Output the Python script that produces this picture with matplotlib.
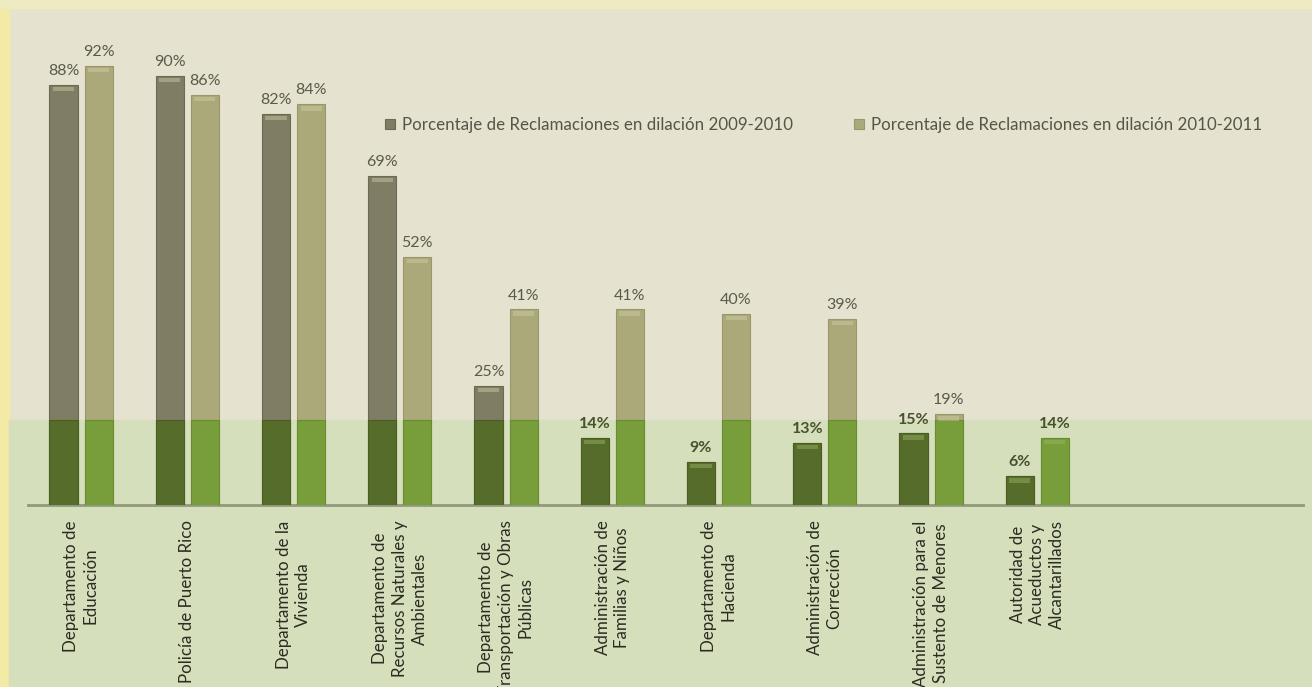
import numpy as np
import matplotlib.pyplot as plt
from matplotlib.patches import Rectangle
from matplotlib.transforms import blended_transform_factory

plt.rcParams['font.family'] = ['Lato', 'DejaVu Sans']

# Datos
categorias = [
    "Departamento de\nEducación",
    "Policía de Puerto Rico",
    "Departamento de la\nVivienda",
    "Departamento de\nRecursos Naturales y\nAmbientales",
    "Departamento de\nTransportación y Obras\nPúblicas",
    "Administración de\nFamilias y Niños",
    "Departamento de\nHacienda",
    "Administración de\nCorrección",
    "Administración para el\nSustento de Menores",
    "Autoridad de\nAcueductos y\nAlcantarillados",
]
pct_2009_2010 = [88, 90, 82, 69, 25, 14, 9, 13, 15, 6]
pct_2010_2011 = [92, 86, 84, 52, 41, 41, 40, 39, 19, 14]
serie_1 = "Porcentaje de Reclamaciones en dilación 2009-2010"
serie_2 = "Porcentaje de Reclamaciones en dilación 2010-2011"

# nivel de la franja verde (en %)
franja = 17.8

fig = plt.figure(figsize=(13.12, 6.87), dpi=100, facecolor='#e5e3cf')
ax = fig.add_axes([0.0213, 0.2649, 0.9718, 0.6943])
ax.set_facecolor('none')

# bordes amarillos
fig.patches.append(Rectangle((0, 0), 0.0072, 1, transform=fig.transFigure,
                             color='#f3eba5', zorder=-1))
fig.patches.append(Rectangle((0, 0.988), 1, 0.012, transform=fig.transFigure,
                             color='#eeeac2', zorder=-1))

# franja verde
tr = blended_transform_factory(fig.transFigure, ax.transData)
ax.add_patch(Rectangle((0.0072, -60), 1, 60 + franja, transform=tr,
                       color='#d5dfbb', clip_on=False, zorder=0))

x = np.arange(len(categorias))
w = 0.265
d = 0.165
v1 = np.array(pct_2009_2010)
v2 = np.array(pct_2010_2011)

# partes grises
ax.bar(x - d, v1, w, color='#7f7d64', edgecolor='#6c6a52', lw=0.8, zorder=2, label=serie_1)
ax.bar(x + d, v2, w, color='#aba97a', edgecolor='#99976a', lw=0.8, zorder=2, label=serie_2)
# partes verdes dentro de la franja
ax.bar(x - d, np.minimum(v1, franja), w, color='#566c2b', edgecolor='#4a5e22', lw=0.8, zorder=3)
ax.bar(x + d, np.minimum(v2, franja), w, color='#789e3b', edgecolor='#688c30', lw=0.8, zorder=3)

# brillo suave en la parte superior
for xs, vals in ((x - d, v1), (x + d, v2)):
    for xi, v in zip(xs, vals):
        c = '#9ab564' if v <= franja else '#cfcda8'
        ax.bar(xi, 0.9, w * 0.75, bottom=v - 1.3, color=c, alpha=0.45, lw=0, zorder=4)

# etiquetas de porcentaje
for xs, vals in ((x - d, v1), (x + d, v2)):
    for xi, v in zip(xs, vals):
        if v <= franja:
            col, wt = '#46522c', 'bold'
        else:
            col, wt = '#5a5a4c', 'normal'
        ax.annotate(f"{v}%", (xi, v), xytext=(0, 5), textcoords='offset points',
                    ha='center', va='bottom', fontsize=11.5, color=col, fontweight=wt)

ax.set_xlim(-0.5, 11.5)
ax.set_ylim(0, 100)
ax.set_yticks([])
ax.set_xticks(x)
ax.set_xticklabels(categorias, rotation=90, fontsize=12.2, color='#2b2b22',
                   multialignment='center', linespacing=1.28)
ax.tick_params(axis='x', length=0, pad=11)
for s in ('top', 'right', 'left'):
    ax.spines[s].set_visible(False)
ax.spines['bottom'].set_color('#909a7c')
ax.spines['bottom'].set_linewidth(2)

ax.legend(loc='center left', bbox_to_anchor=(0.268, 0.797), ncol=2, frameon=False,
          fontsize=12.2, labelcolor='#555548', handlelength=0.6, handleheight=0.6,
          handletextpad=0.4, columnspacing=3.6)

fig.savefig('out.png', dpi=100, facecolor=fig.get_facecolor())
